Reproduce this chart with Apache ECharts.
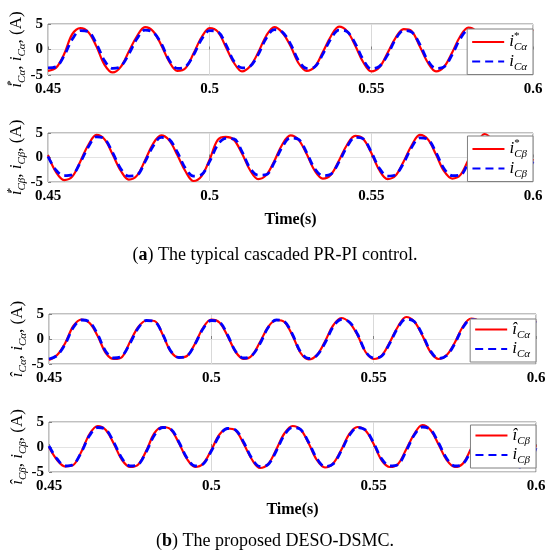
<!DOCTYPE html>
<html>
<head>
<meta charset="utf-8">
<script src="https://cdn.jsdelivr.net/npm/echarts@6/dist/echarts.min.js"></script>
</head>
<body style="margin:0;background:#fff">
<div id="main" style="width:550px;height:554px;"></div>
<script>
var time = [0.45,0.4525,0.455,0.4575,0.46,0.4625,0.465,0.4675,0.47,0.4725,0.475,0.4775,0.48,0.4825,0.485,0.4875,0.49,0.4925,0.495,0.4975,
  0.5,0.5025,0.505,0.5075,0.51,0.5125,0.515,0.5175,0.52,0.5225,0.525,0.5275,0.53,0.5325,0.535,0.5375,0.54,0.5425,0.545,0.5475,
  0.55,0.5525,0.555,0.5575,0.56,0.5625,0.565,0.5675,0.57,0.5725,0.575,0.5775,0.58,0.5825,0.585,0.5875,0.59,0.5925,0.595,0.5975,0.6];

// (a) cascaded PR-PI, alpha axis
var refAlphaPR = [-4.2,-3.6,-0.9,3.0,4.2,3.4,0.6,-3.0,
  -4.5,-3.4,-0.4,2.6,4.4,3.6,0.9,-2.4,
  -4.2,-3.7,-0.8,2.4,4.2,3.5,0.5,-2.6,
  -4.3,-3.3,-0.6,2.7,4.4,3.3,0.7,-2.7,
  -4.2,-3.4,-0.5,2.6,4.5,3.6,0.8,-2.5,
  -4.3,-3.5,-0.7,2.3,4.0,3.6,0.6,-2.6,
  -4.3,-3.4,-0.6,2.6,4.3,3.5,0.7,-2.5,
  -4.3,-3.5,-0.8,2.5,3.9];
var measAlphaPR = [-3.6,-3.4,-1.2,2.0,3.7,3.5,1.1,-2.2,
  -3.7,-3.3,-0.9,2.1,3.8,3.4,1.2,-2.1,
  -3.7,-3.4,-1.1,2.0,3.7,3.5,1.0,-2.3,
  -3.6,-3.3,-1.0,2.2,3.9,3.4,1.1,-2.2,
  -3.7,-3.4,-0.9,2.1,3.8,3.5,1.2,-2.0,
  -3.8,-3.3,-1.1,2.0,3.7,3.4,1.0,-2.2,
  -3.7,-3.4,-1.0,2.1,3.8,3.5,1.1,-2.1,
  -3.6,-3.3,-1.0,2.0,3.7];
// (a) beta axis
var refBetaPR = [0.5,-3.0,-4.6,-3.9,-0.8,2.6,4.6,3.7,
  0.6,-2.7,-4.5,-3.7,-0.6,2.8,4.5,3.5,
  0.5,-2.8,-4.8,-3.8,-0.4,3.6,4.2,3.6,
  0.8,-2.6,-4.4,-3.6,-0.7,2.7,4.5,3.6,
  0.7,-2.7,-4.3,-3.5,-0.6,2.6,4.4,3.8,
  0.9,-2.6,-4.4,-3.7,-0.8,2.5,4.6,3.7,
  0.6,-2.8,-4.3,-3.6,-0.5,2.7,4.8,3.5,
  0.4,-2.9,-4.3,-3.5,-0.3];
var measBetaPR = [0.2,-2.6,-3.7,-3.5,-1.0,2.2,4.2,3.8,
  1.0,-2.3,-3.8,-3.6,-0.9,2.3,4.1,3.7,
  1.1,-2.2,-3.8,-3.5,-0.8,2.6,3.9,3.8,
  1.2,-2.2,-3.6,-3.5,-1.0,2.2,4.0,3.7,
  1.0,-2.3,-3.7,-3.4,-0.9,2.2,4.1,3.8,
  1.1,-2.2,-3.8,-3.5,-1.1,2.1,4.0,3.7,
  1.0,-2.3,-3.7,-3.6,-1.0,2.2,4.1,3.8,
  1.0,-2.2,-3.7,-3.4,-0.8];
// (b) DESO-DSMC, alpha axis
var estAlphaDS = [-4.2,-3.2,-0.8,2.6,3.9,3.2,0.6,-2.8,
  -4.0,-3.6,-0.5,2.4,3.7,3.6,0.9,-2.5,
  -3.7,-3.4,-0.9,2.3,3.9,3.3,0.6,-2.6,
  -4.0,-3.3,-0.6,2.4,3.8,3.4,0.7,-2.8,
  -4.1,-3.2,-0.5,2.7,4.2,3.3,0.8,-2.6,
  -4.0,-3.3,-0.6,2.5,4.4,3.5,0.7,-2.6,
  -4.0,-3.2,-0.7,2.5,4.1,3.5,0.6,-2.5,
  -4.1,-3.4,-0.7,2.4,3.7];
var measAlphaDS = [-4.0,-3.3,-1.0,2.3,3.8,3.4,0.9,-2.5,
  -3.8,-3.4,-0.8,2.2,3.7,3.5,1.0,-2.4,
  -3.7,-3.4,-1.0,2.1,3.7,3.4,0.8,-2.5,
  -3.8,-3.3,-0.9,2.3,3.8,3.5,0.9,-2.6,
  -3.9,-3.3,-0.8,2.4,3.9,3.4,1.0,-2.5,
  -3.8,-3.4,-0.8,2.3,4.0,3.5,0.9,-2.4,
  -3.9,-3.3,-0.9,2.3,3.9,3.4,0.8,-2.4,
  -3.9,-3.4,-0.9,2.2,3.6];
// (b) beta axis
var estBetaDS = [0.0,-2.6,-3.9,-3.6,-0.9,2.6,4.2,3.4,
  0.6,-2.6,-4.0,-3.5,-0.7,2.8,4.0,3.5,
  0.8,-2.4,-4.0,-3.3,-0.6,2.5,3.7,3.3,
  0.6,-2.5,-4.2,-3.4,-0.5,2.7,4.2,3.5,
  0.7,-2.6,-4.1,-3.3,-0.6,2.6,4.0,3.3,
  0.6,-2.7,-4.0,-3.4,-0.5,2.6,4.4,3.4,
  0.5,-2.6,-4.0,-3.3,-0.3,2.7,4.1,3.4,
  0.4,-2.7,-4.0,-3.2,0.4];
var measBetaDS = [0.2,-2.4,-3.8,-3.5,-1.0,2.3,3.9,3.5,
  0.9,-2.3,-3.8,-3.5,-0.9,2.4,3.9,3.6,
  1.0,-2.2,-3.8,-3.4,-0.8,2.3,3.7,3.4,
  0.9,-2.3,-3.9,-3.5,-0.8,2.4,3.9,3.5,
  0.9,-2.3,-3.9,-3.4,-0.8,2.3,3.9,3.4,
  0.8,-2.4,-3.8,-3.5,-0.8,2.4,4.0,3.5,
  0.8,-2.3,-3.8,-3.4,-0.7,2.4,4.0,3.5,
  0.7,-2.4,-4.0,-3.5,-0.2];

var xTicks = [0.45, 0.5, 0.55, 0.6];
var yTicks = [-5, 0, 5];

var serif = 'Liberation Serif';
var rich = {
  i:   {fontFamily: serif, fontStyle: 'italic', fontSize: 17, lineHeight: 22, color: '#000'},
  sup: {fontFamily: serif, fontSize: 11, lineHeight: 12, verticalAlign: 'top', color: '#000', width: 0},
  sub: {fontFamily: serif, fontStyle: 'italic', fontSize: 11, lineHeight: 12, verticalAlign: 'bottom', color: '#000'},
  t:   {fontFamily: serif, fontSize: 17, lineHeight: 22, color: '#000'}
};
function star(g) { return '{i|i}{sup|*}{sub|C' + g + '}'; }
function hat(g) { return '{i|î}{sub|C' + g + '}'; }
function plain(g) { return '{i|i}{sub|C' + g + '}'; }

var panels = [
  {left: 48, top: 24, width: 485, height: 51, a: refAlphaPR, b: measAlphaPR, la: star('α'), lb: plain('α'), legTop: 29, legRight: 17, time: false},
  {left: 48, top: 133, width: 485, height: 49, a: refBetaPR, b: measBetaPR, la: star('β'), lb: plain('β'), legTop: 136, legRight: 17, time: true},
  {left: 49, top: 314, width: 487, height: 50, a: estAlphaDS, b: measAlphaDS, la: hat('α'), lb: plain('α'), legTop: 319, legRight: 14, time: false},
  {left: 49, top: 422, width: 487, height: 50, a: estBetaDS, b: measBetaDS, la: hat('β'), lb: plain('β'), legTop: 425, legRight: 14, time: true}
];

var labels = {};
var grid = [], xAxis = [], yAxis = [], series = [], legend = [];
panels.forEach(function (p, k) {
  grid.push({left: p.left, top: p.top, width: p.width, height: p.height, outerBoundsMode: 'none',
    show: true, borderColor: '#808080', borderWidth: 1, backgroundColor: 'transparent'});
  xAxis.push({
    type: 'value', gridIndex: k, min: xTicks[0], max: xTicks[xTicks.length - 1], interval: 0.05,
    axisLine: {show: false},
    axisTick: {inside: true, length: 3, lineStyle: {color: '#808080'}},
    splitLine: {show: true, lineStyle: {color: '#d9d9d9'}},
    axisLabel: {fontFamily: serif, fontWeight: 'bold', fontSize: 15, color: '#000', margin: 7,
      alignMinLabel: 'center', alignMaxLabel: 'center', hideOverlap: false,
      formatter: function (v) { return String(+v.toFixed(2)); }},
    name: p.time ? 'Time(s)' : '', nameLocation: 'middle', nameGap: 30, nameMoveOverlap: false,
    nameTextStyle: {fontFamily: serif, fontWeight: 'bold', fontSize: 16, color: '#000'}
  });
  yAxis.push({
    type: 'value', gridIndex: k, min: yTicks[0], max: yTicks[yTicks.length - 1], interval: 5,
    axisLine: {show: false},
    axisTick: {inside: true, length: 3, lineStyle: {color: '#808080'}},
    splitLine: {show: true, lineStyle: {color: '#e3e3e3'}},
    axisLabel: {fontFamily: serif, fontWeight: 'bold', fontSize: 15, color: '#000', margin: 5},
    name: p.la + '{t|, }' + p.lb + '{t|, (A)}', nameLocation: 'middle', nameRotate: 90, nameGap: 20,
    nameMoveOverlap: false,
    nameTextStyle: {rich: rich}
  });
  var na = 'a' + k, nb = 'b' + k;
  labels[na] = p.la; labels[nb] = p.lb;
  series.push({
    name: na, type: 'line', xAxisIndex: k, yAxisIndex: k, symbol: 'none', smooth: 0.35,
    data: time.map(function (t, j) { return [t, p.a[j]]; }),
    lineStyle: {color: '#ff0000', width: 2.2}, itemStyle: {color: '#ff0000'}
  });
  series.push({
    name: nb, type: 'line', xAxisIndex: k, yAxisIndex: k, symbol: 'none', smooth: 0.35,
    data: time.map(function (t, j) { return [t, p.b[j]]; }),
    lineStyle: {color: '#0000ff', width: 2.8, type: [8, 5]}, itemStyle: {color: '#0000ff'}
  });
  legend.push({
    data: [na, nb], orient: 'vertical', right: p.legRight, top: p.legTop,
    itemWidth: 32, itemHeight: 14, itemGap: 0, padding: [2, 6, 2, 4],
    backgroundColor: '#fff', borderColor: '#808080', borderWidth: 1,
    selectedMode: false,
    itemStyle: {opacity: 0},
    formatter: function (name) { return labels[name]; },
    textStyle: {rich: rich}
  });
});

var capRich = {
  n: {fontFamily: serif, fontSize: 18, fontWeight: 'normal', color: '#000'},
  b: {fontFamily: serif, fontSize: 18, fontWeight: 'bold', color: '#000'}
};
var chart = echarts.init(document.getElementById('main'));
chart.setOption({
  animation: false,
  backgroundColor: '#fff',
  title: [
    {text: '{n|(}{b|a}{n|) The typical cascaded PR-PI control.}', left: 'center', top: 241,
      textStyle: {fontWeight: 'normal', rich: capRich}},
    {text: '{n|(}{b|b}{n|) The proposed DESO-DSMC.}', left: 'center', top: 527,
      textStyle: {fontWeight: 'normal', rich: capRich}}
  ],
  grid: grid, xAxis: xAxis, yAxis: yAxis, series: series, legend: legend
});
</script>
</body>
</html>
